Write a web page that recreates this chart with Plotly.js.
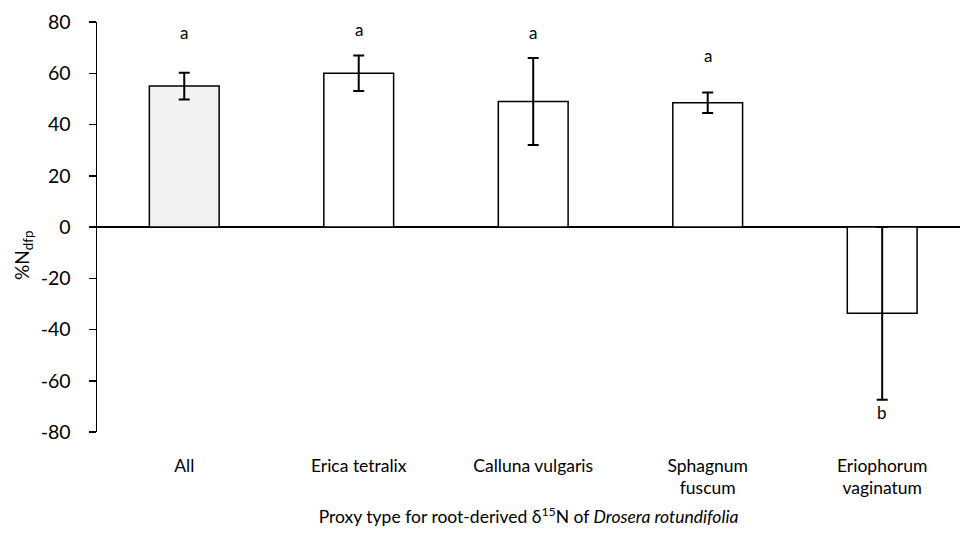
<!DOCTYPE html>
<html><head><meta charset="utf-8">
<script src="https://cdn.plot.ly/plotly-3.0.1.min.js"></script>
<style>body{margin:0}#c{width:960px;height:540px}</style>
</head><body><div id="c"></div>
<script>
const categories = ["All", "Erica tetralix", "Calluna vulgaris", "Sphagnum<br>fuscum", "Eriophorum<br>vaginatum"];
const means = [55, 60, 49, 48.5, -33.7];
const errors = [5.2, 6.9, 17, 4, 33.7];
const letters = ["a", "a", "a", "a", "b"];
const letterY = [76, 77, 76, 67, -72.5];
const yTicks = [-80, -60, -40, -20, 0, 20, 40, 60, 80];

const FONT = "Lato, 'Open Sans', sans-serif";
const fills = categories.map((c, i) => i === 0 ? "#f2f2f2" : "#ffffff");

const trace = {
  type: "bar",
  x: categories.map((c, i) => i),
  y: means,
  width: 0.4,
  marker: {color: fills, line: {color: "#000", width: 1.5}},
  error_y: {type: "data", array: errors, visible: true, color: "#000", thickness: 2, width: 5.5}
};

const annotations = letters.map((t, i) => ({
  x: i, y: letterY[i], xref: "x", yref: "y", text: t, showarrow: false,
  font: {family: FONT, size: 17, color: "#000"}
}));
annotations.push({
  xref: "paper", yref: "paper", x: -0.104, y: 0.43, text: "%N<sub>dfp</sub>", textangle: -90,
  showarrow: false, font: {family: FONT, size: 19, color: "#000"}
});

const layout = {
  width: 960, height: 540,
  margin: {l: 97, r: 0, t: 22, b: 108},
  paper_bgcolor: "#fff", plot_bgcolor: "#fff",
  showlegend: false,
  bargap: 0,
  xaxis: {
    range: [-0.5, 4.446], tickvals: categories.map((c, i) => i), ticktext: categories,
    showline: false, showgrid: false, zeroline: false, ticks: "",
    ticklabelstandoff: 21,
    tickfont: {family: FONT, size: 17.5, color: "#000"},
    title: {text: "Proxy type for root-derived δ<sup>15</sup>N of <i>Drosera rotundifolia</i>",
            font: {family: FONT, size: 17.5, color: "#000"}, standoff: 13},
    automargin: false
  },
  yaxis: {
    range: [-80, 80], tickvals: yTicks, ticktext: yTicks.map(String),
    showline: true, linecolor: "#000", linewidth: 1.5,
    ticks: "outside", ticklen: 7, tickcolor: "#000", tickwidth: 1.5,
    ticklabelstandoff: 14,
    showgrid: false, zeroline: true, zerolinecolor: "#000", zerolinewidth: 1.5,
    tickfont: {family: FONT, size: 19.5, color: "#000"},
    automargin: false
  },
  annotations: annotations
};

Plotly.newPlot("c", [trace], layout, {displayModeBar: false, staticPlot: true});
</script></body></html>
